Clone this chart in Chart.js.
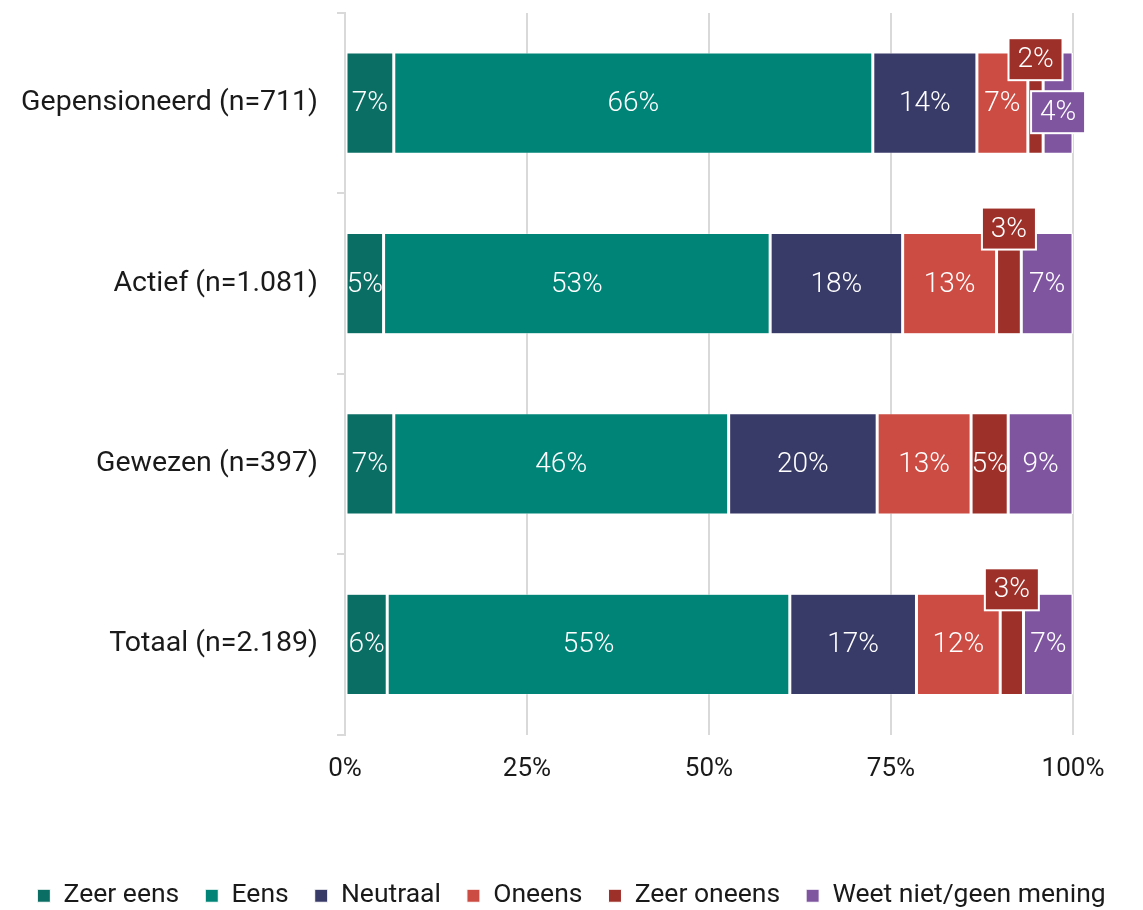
<!DOCTYPE html>
<html>
<head>
<meta charset="utf-8">
<script src="https://cdn.jsdelivr.net/npm/chart.js@4/dist/chart.umd.min.js"></script>
<style>
  body { margin: 0; background: #fff; }
  #wrap { width: 1143px; height: 910px; }
</style>
</head>
<body>
<div id="wrap"><canvas id="chart" width="1143" height="910"></canvas></div>
<script>
// categories (top to bottom)
const groups = ["Gepensioneerd (n=711)", "Actief (n=1.081)", "Gewezen (n=397)", "Totaal (n=2.189)"];

// answer series, percentages per group
const zeerEens   = [6.7, 5.3, 6.7, 5.8];
const eens       = [65.8, 53.1, 46.0, 55.3];
const neutraal   = [14.3, 18.2, 20.4, 17.4];
const oneens     = [7.0, 12.9, 12.9, 11.5];
const zeerOneens = [2.1, 3.4, 5.1, 3.2];
const weetNiet   = [4.1, 7.1, 8.9, 6.8];

const xTicks = [0, 25, 50, 75, 100];

const seriesNames = ["Zeer eens", "Eens", "Neutraal", "Oneens", "Zeer oneens", "Weet niet/geen mening"];
const seriesData = [zeerEens, eens, neutraal, oneens, zeerOneens, weetNiet];
const colors = ['#0b6e64', '#008478', '#383a68', '#cc4b42', '#9e302a', '#7f55a0'];

const FONT = 'Roboto';
const TEXT = '#1a1a1a';

// labels that don't fit are moved into a small box: vertical shift from bar centre
const calloutDy = { '4-0': -44, '5-0': 9, '4-1': -55, '4-3': -55 };

const valueLabels = {
    id: 'valueLabels',
    afterDatasetsDraw(chart) {
        const ctx = chart.ctx;
        ctx.save();
        ctx.font = '300 28px ' + FONT;
        ctx.textAlign = 'center';
        ctx.textBaseline = 'middle';
        chart.data.datasets.forEach((ds, i) => {
            const meta = chart.getDatasetMeta(i);
            meta.data.forEach((bar, j) => {
                const txt = Math.round(ds.data[j]) + '%';
                const cx = (bar.x + bar.base) / 2;
                const key = i + '-' + j;
                if (calloutDy[key] !== undefined) {
                    const cy = bar.y + calloutDy[key];
                    const w = 54, h = 42;
                    ctx.fillStyle = ds.backgroundColor;
                    ctx.fillRect(cx - w / 2, cy - h / 2, w, h);
                    ctx.strokeStyle = '#fff';
                    ctx.lineWidth = 2;
                    ctx.strokeRect(cx - w / 2, cy - h / 2, w, h);
                    ctx.fillStyle = '#fff';
                    ctx.fillText(txt, cx, cy + 1);
                } else {
                    ctx.fillStyle = '#fff';
                    ctx.fillText(txt, cx, bar.y + 1);
                }
            });
        });
        ctx.restore();
    }
};

const datasets = seriesNames.map((name, i) => ({
    label: name,
    data: seriesData[i],
    backgroundColor: colors[i],
    borderColor: '#ffffff',
    borderWidth: { left: 1.5, right: 1.5, top: 0.5, bottom: 0.5 },
    borderSkipped: false,
    barPercentage: 1,
    categoryPercentage: 100 / 180
}));

new Chart('chart', {
    type: 'bar',
    data: { labels: groups, datasets: datasets },
    options: {
        indexAxis: 'y',
        responsive: false,
        animation: false,
        layout: { padding: { top: 13, right: 0, left: 0, bottom: -9 } },
        scales: {
            x: {
                stacked: true,
                min: 0,
                max: 100,
                afterBuildTicks: (scale) => { scale.ticks = xTicks.map(v => ({ value: v })); },
                afterFit: (scale) => { scale.height = 122; },
                ticks: {
                    callback: (v) => v + '%',
                    color: TEXT,
                    font: { family: FONT, size: 26 },
                    padding: 19,
                    maxRotation: 0
                },
                grid: { color: '#d9d9d9', lineWidth: 2, drawTicks: false },
                border: { display: false }
            },
            y: {
                stacked: true,
                afterFit: (scale) => { scale.width = 345; scale.paddingTop = 0; scale.paddingBottom = 0; },
                ticks: {
                    color: TEXT,
                    font: { family: FONT, size: 28.5 },
                    padding: 19
                },
                grid: { drawOnChartArea: false, color: '#d9d9d9', lineWidth: 2, tickLength: 8 },
                border: { color: '#d9d9d9', width: 2 }
            },
            // empty right-hand axis, only keeps room free on the right
            yRight: {
                axis: 'y',
                position: 'right',
                afterFit: (scale) => { scale.width = 70; scale.paddingTop = 0; scale.paddingBottom = 0; },
                ticks: { display: false },
                grid: { display: false },
                border: { display: false }
            }
        },
        plugins: {
            tooltip: { enabled: false },
            legend: {
                position: 'bottom',
                labels: {
                    boxWidth: 13,
                    boxHeight: 13,
                    padding: 26,
                    color: TEXT,
                    font: { family: FONT, size: 26.5 }
                }
            }
        }
    },
    plugins: [valueLabels]
});
</script>
</body>
</html>
